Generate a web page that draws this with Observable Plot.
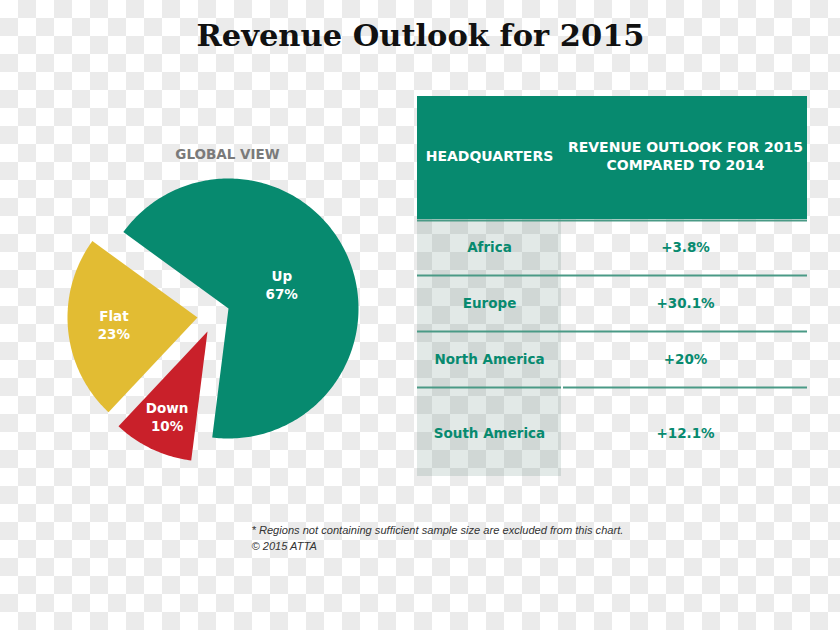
<!DOCTYPE html>
<html>
<head>
<meta charset="utf-8">
<script src="https://cdn.jsdelivr.net/npm/d3@7"></script>
<script src="https://cdn.jsdelivr.net/npm/@observablehq/plot@0.6"></script>
<style>
  html, body { margin: 0; padding: 0; }
  body {
    width: 840px; height: 630px; overflow: hidden;
    background: conic-gradient(#ebebeb 25%, #ffffff 0 50%, #ebebeb 0 75%, #ffffff 0) 0 0 / 36px 36px;
  }
  #chart svg { display: block; background: transparent; }
</style>
</head>
<body>
<div id="chart"></div>
<script>
// ---- data ----
const title = "Revenue Outlook for 2015";
const pieTitle = "GLOBAL VIEW";
const sliceNames = ["Up", "Down", "Flat"];
const sliceValues = [67, 10, 23];
const sliceColors = ["#078a6f", "#c9202a", "#e2bc33"];
const headerLeft = "HEADQUARTERS";
const headerRight = ["REVENUE OUTLOOK FOR 2015", "COMPARED TO 2014"];
const regions = ["Africa", "Europe", "North America", "South America"];
const outlook = ["+3.8%", "+30.1%", "+20%", "+12.1%"];
const footnotes = ["* Regions not containing sufficient sample size are excluded from this chart.", "\u00A9 2015 ATTA"];

// ---- layout ----
const W = 840, H = 630;
const cx = 228, cy = 308, R = 130;
const explode = {Up: [0, 0], Down: [-21, 23], Flat: [-31, 9]};
const labelR = {Up: 58, Down: 95, Flat: 84};
const startDeg = -54;

const pie = d3.pie().sort(null).value(d => d.value)
  .startAngle(startDeg * Math.PI / 180).endAngle((startDeg + 360) * Math.PI / 180);
const arcs = pie(sliceNames.map((name, i) => ({name, value: sliceValues[i]})));

const piePts = [];
const labels = [];
for (const a of arcs) {
  const name = a.data.name;
  const [ox, oy] = explode[name];
  const px = cx + ox, py = cy + oy;
  piePts.push({name, x: px, y: py});
  const n = Math.max(8, Math.ceil((a.endAngle - a.startAngle) * 180 / Math.PI));
  for (let k = 0; k <= n; k++) {
    const t = a.startAngle + (a.endAngle - a.startAngle) * k / n;
    piePts.push({name, x: px + R * Math.sin(t), y: py - R * Math.cos(t)});
  }
  piePts.push({name, x: px, y: py});
  const mid = (a.startAngle + a.endAngle) / 2;
  labels.push({name, value: a.data.value,
    x: px + labelR[name] * Math.sin(mid), y: py - labelR[name] * Math.cos(mid)});
}

// table layout
const tX0 = 417, tX1 = 807, tXmid = 561;
const headTop = 96, headBot = 219;
const rowLines = [220, 275, 331, 387];
const rowCenters = [247, 303, 359, 433];
const tableBottom = 476;
const col1X = (tX0 + tXmid) / 2, col2X = 685;

const tableRows = regions.map((r, i) => ({region: r, value: outlook[i], y: rowCenters[i]}));

const teal = "#078a6f";
const sans = "'DejaVu Sans', sans-serif";

const chart = Plot.plot({
  width: W, height: H,
  margin: 0,
  x: {domain: [0, W], range: [0, W], axis: null},
  y: {domain: [0, H], range: [0, H], axis: null},
  color: {domain: sliceNames, range: sliceColors},
  style: {background: "transparent", fontFamily: sans},
  marks: [
    // title
    Plot.text([title], {x: W / 2, y: 36, text: d => d, fontSize: 30.5, fontWeight: "bold",
      fontFamily: "'DejaVu Serif', serif", fill: "#111"}),
    // pie
    Plot.text([pieTitle], {x: 227, y: 154, text: d => d, fontSize: 13.5, fontWeight: "bold",
      fill: "#7a7a7a", style: {letterSpacing: "1.2px"}}),
    Plot.line(piePts, {x: "x", y: "y", z: "name", fill: "name", stroke: null, curve: "linear"}),
    Plot.text(labels, {x: "x", y: d => d.y - 9, text: "name", fill: "white", fontSize: 13.5, fontWeight: "bold"}),
    Plot.text(labels, {x: "x", y: d => d.y + 9, text: d => d.value + "%", fill: "white", fontSize: 13.5, fontWeight: "bold"}),
    // table header
    Plot.rect([0], {x1: tX0, x2: tX1, y1: headTop, y2: headBot, fill: teal}),
    Plot.text([headerLeft], {x: col1X, y: 156, text: d => d, fill: "white", fontSize: 14, fontWeight: "bold",
      style: {letterSpacing: "0.4px"}}),
    Plot.text(headerRight, {x: col2X, y: (d, i) => 147 + i * 18, text: d => d, fill: "white", fontSize: 14,
      fontWeight: "bold", style: {letterSpacing: "0.4px"}}),
    // first column shading
    Plot.rect([0], {x1: tX0, x2: tXmid, y1: headBot, y2: tableBottom, fill: "#2f6558", fillOpacity: 0.14}),
    // row rules
    Plot.ruleY(rowLines.slice(0, 3), {x1: tX0, x2: tX1, stroke: "#4a9a86", strokeWidth: 2}),
    Plot.ruleY([rowLines[3]], {x1: tX0, x2: tXmid, stroke: "#4a9a86", strokeWidth: 2}),
    Plot.ruleY([rowLines[3]], {x1: tXmid + 2, x2: tX1, stroke: "#4a9a86", strokeWidth: 2}),
    // table cells
    Plot.text(tableRows, {x: col1X, y: "y", text: "region", fill: teal, fontSize: 13.5, fontWeight: "bold"}),
    Plot.text(tableRows, {x: col2X, y: "y", text: "value", fill: teal, fontSize: 13.5, fontWeight: "bold"}),
    // footnotes
    Plot.text(footnotes, {x: 251, y: (d, i) => 530 + i * 16, text: d => d, textAnchor: "start",
      fontSize: 11.1, fontStyle: "italic", fill: "#333", fontFamily: "'Liberation Sans', sans-serif"})
  ]
});
document.getElementById("chart").appendChild(chart);
</script>
</body>
</html>
